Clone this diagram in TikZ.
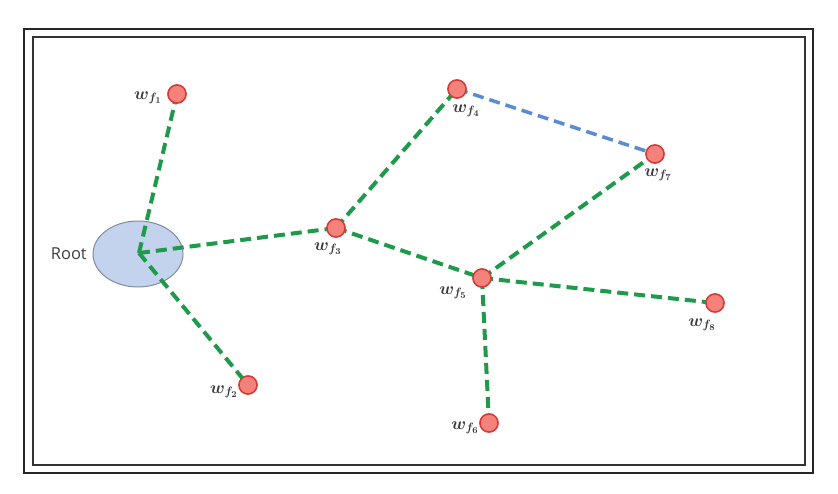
\documentclass[tikz,border=0pt]{standalone}
\usepackage{fontspec}
\newfontfamily\rootfont{Open Sans}
\usetikzlibrary{shapes.geometric}
\definecolor{edgegreen}{HTML}{1F9A4B}
\definecolor{edgeblue}{HTML}{5B8BD0}
\definecolor{nodefill}{HTML}{F4817A}
\definecolor{nodedraw}{HTML}{D43A36}
\definecolor{rootfill}{HTML}{C3D3EE}
\definecolor{rootdraw}{HTML}{7F8C9E}
\definecolor{labelgray}{HTML}{3A3A3A}
\begin{document}
\begin{tikzpicture}[x=1pt,y=-1pt,
  leaf/.style={circle,draw=nodedraw,fill=nodefill,line width=1.4pt,minimum size=18pt,inner sep=0pt},
  rootnode/.style={ellipse,draw=rootdraw,fill=rootfill,line width=1pt,minimum width=90pt,minimum height=66pt,inner sep=0pt},
  wlabel/.style={text=labelgray,font=\fontsize{18}{21}\selectfont\boldmath,inner sep=0pt},
  greenedge/.style={draw=edgegreen,line width=4pt,dash pattern=on 11pt off 6pt},
  blueedge/.style={draw=edgeblue,line width=3.5pt,dash pattern=on 11pt off 6pt}]
\useasboundingbox (0,0) rectangle (838,494);
\fill[white] (0,0) rectangle (838,494);
% frame
\draw[line width=2.4pt,draw=black!85] (24,29) rectangle (813,473);
\draw[line width=1.4pt,draw=black!80] (33,37) rectangle (805,465);
% nodes
\node[rootnode] (root) at (138,254) {};
\coordinate (rc) at (139,253);
\node[leaf] (f1) at (177,94) {};
\node[leaf] (f2) at (248,385) {};
\node[leaf] (f3) at (336,228) {};
\node[leaf] (f4) at (457,89) {};
\node[leaf] (f5) at (482,278) {};
\node[leaf] (f6) at (489,423) {};
\node[leaf] (f7) at (655,154) {};
\node[leaf] (f8) at (715,303) {};
% edges
\draw[greenedge] (rc) -- (f1.center);
\draw[greenedge] (rc) -- (f2.center);
\draw[greenedge] (rc) -- (f3.center);
\draw[greenedge] (f3.center) -- (f4.center);
\draw[greenedge] (f3.center) -- (f5.center);
\draw[greenedge] (f5.center) -- (f7.center);
\draw[greenedge] (f5.center) -- (f8.center);
\draw[greenedge] (f5.center) -- (f6.center);
\draw[blueedge] (f4.center) -- (f7.center);
% redraw node discs on top
\foreach \n in {f1,f2,f3,f4,f5,f6,f7,f8}{\node[leaf] at (\n) {};}
% labels
\node[text=black!75,font=\rootfont\fontsize{16.5}{19}\selectfont,anchor=east,inner sep=0pt] (rootlbl) at (87,254) {Root};
\node[wlabel] (l1) at (148,98) {$w_{f_1}$};
\node[wlabel] (l2) at (224,392) {$w_{f_2}$};
\node[wlabel] (l3) at (328,249) {$w_{f_3}$};
\node[wlabel] (l4) at (466,111) {$w_{f_4}$};
\node[wlabel] (l5) at (453,293) {$w_{f_5}$};
\node[wlabel] (l6) at (465,428) {$w_{f_6}$};
\node[wlabel] (l7) at (658,175) {$w_{f_7}$};
\node[wlabel] (l8) at (702,325) {$w_{f_8}$};
\end{tikzpicture}
\end{document}
